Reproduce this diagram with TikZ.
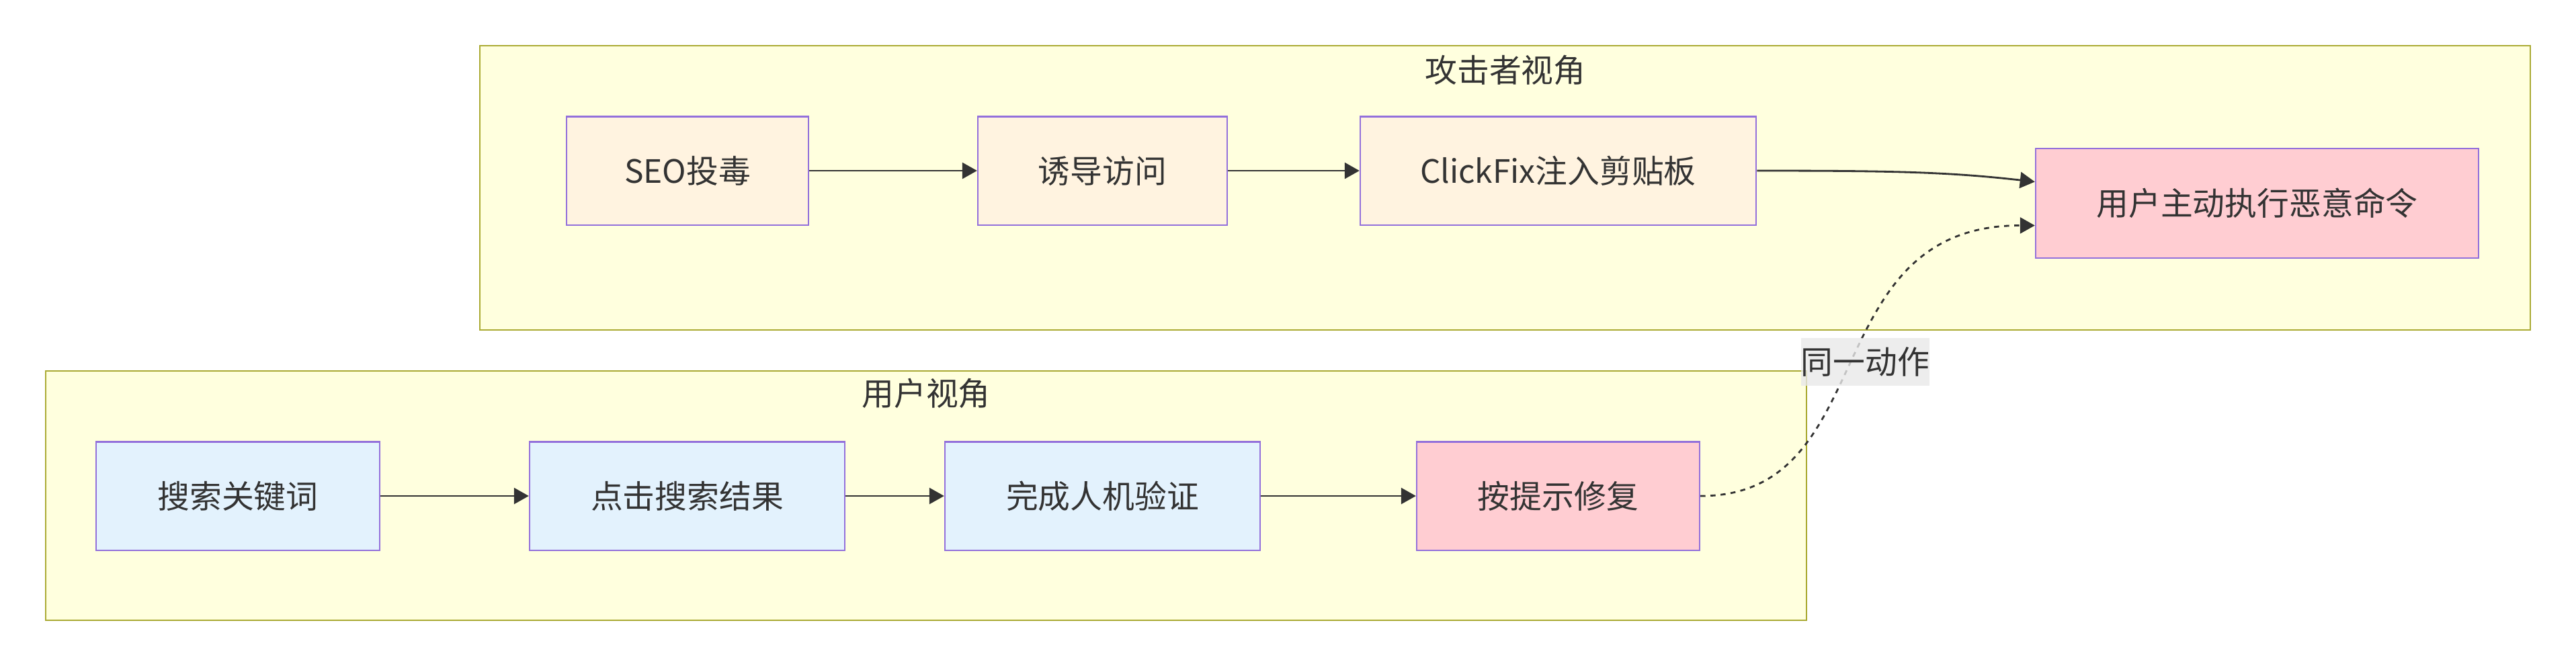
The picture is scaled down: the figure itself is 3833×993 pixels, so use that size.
\documentclass[tikz,border=0pt]{standalone}
\usepackage{fontspec}
\setmainfont{Noto Sans CJK SC}
\usetikzlibrary{arrows.meta}
\definecolor{clfill}{HTML}{FFFFDE}
\definecolor{clstroke}{HTML}{AAAA33}
\definecolor{ndstroke}{HTML}{9370DB}
\definecolor{peach}{HTML}{FFF3E0}
\definecolor{lblue}{HTML}{E3F2FD}
\definecolor{lred}{HTML}{FFCDD2}
\definecolor{txt}{HTML}{333333}
\definecolor{lblbg}{HTML}{E8E8E8}
\tikzset{
  cluster/.style={draw=clstroke, fill=clfill, line width=0.6pt},
  box/.style={draw=ndstroke, line width=0.6pt, inner sep=0pt, text=txt,
    font=\fontsize{13.6pt}{16pt}\selectfont, minimum height=1.61cm},
  atk/.style={box, fill=peach},
  usr/.style={box, fill=lblue},
  hot/.style={box, fill=lred},
  ttl/.style={text=txt, inner sep=0pt, font=\fontsize{13.6pt}{16pt}\selectfont},
  flow/.style={draw=txt, line width=0.8pt, -{Triangle[length=0.22cm,width=0.24cm]}},
  dotflow/.style={flow, dash pattern=on 0.075cm off 0.075cm},
  elabel/.style={fill=lblbg, fill opacity=0.8, text opacity=1, text=txt, inner sep=0pt,
    minimum width=1.91cm, minimum height=0.71cm, font=\fontsize{13.6pt}{16pt}\selectfont}
}
\begin{document}
\begin{tikzpicture}[x=0.01cm, y=-0.01cm]
\useasboundingbox (0,0) rectangle (3833,993);
% clusters
\draw[cluster] (714,68) rectangle (3765,491);
\node[ttl] (t1) at (2240,104) {攻击者视角};
\draw[cluster] (68,552) rectangle (2688,923);
\node[ttl] (t2) at (1378,585) {用户视角};
% nodes
\node[atk, minimum width=3.60cm] (seo) at (1023,254) {SEO投毒};
\node[atk, minimum width=3.71cm] (lure) at (1640.5,254) {诱导访问};
\node[atk, minimum width=5.89cm] (cf) at (2318.5,254) {ClickFix注入剪贴板};
\node[hot, minimum width=6.59cm, minimum height=1.63cm] (exec) at (3358.5,302.5) {用户主动执行恶意命令};
\node[usr, minimum width=4.22cm] (s1) at (354,738) {搜索关键词};
\node[usr, minimum width=4.69cm] (s2) at (1022.5,738) {点击搜索结果};
\node[usr, minimum width=4.69cm] (s3) at (1640.5,738) {完成人机验证};
\node[hot, minimum width=4.21cm] (s4) at (2318.5,738) {按提示修复};
% edges
\draw[flow] (seo.east) -- (lure.west);
\draw[flow] (lure.east) -- (cf.west);
\draw[flow] (cf.east) .. controls (2820,254) and (2900,256) .. ([yshift=0.32cm]exec.west);
\draw[flow] (s1.east) -- (s2.west);
\draw[flow] (s2.east) -- (s3.west);
\draw[flow] (s3.east) -- (s4.west);
\coordinate (dend) at ([yshift=-0.33cm]exec.west);
\draw[dotflow] (s4.east) .. controls (2800,738) and (2700,335) .. (dend);
\node[elabel] (lbl) at (2775.5,538.5) {同一动作};
\end{tikzpicture}
\end{document}
